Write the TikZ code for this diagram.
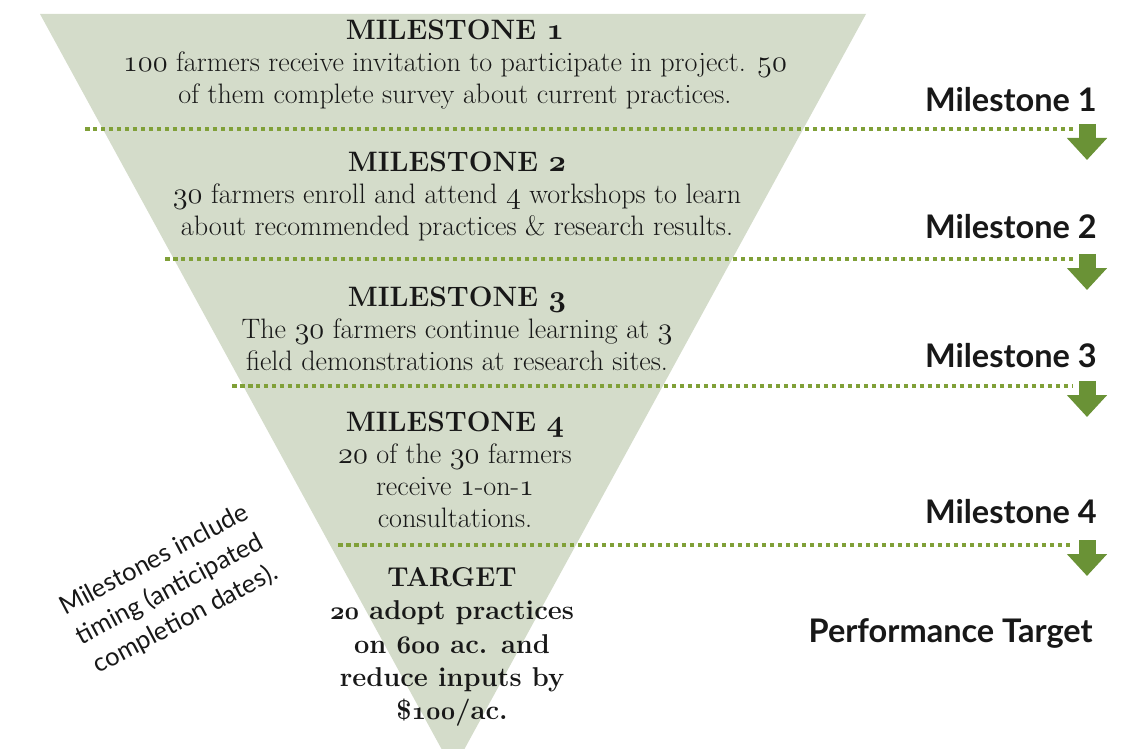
\documentclass[tikz,border=0pt]{standalone}
\usepackage{fontspec}
\usetikzlibrary{arrows.meta}
\newfontfamily\labelfont{Lato}
\definecolor{funnel}{RGB}{212,220,202}
\definecolor{dotgreen}{RGB}{128,160,56}
\definecolor{arrowgreen}{RGB}{106,146,54}
\definecolor{ink}{RGB}{24,24,24}
% old-style figures from the math italic font
\newcommand*{\osn}[1]{{\fontencoding{OML}\fontfamily{cmm}\fontshape{it}\selectfont #1}}

\begin{document}
\begin{tikzpicture}[x=0.02cm, y=-0.02cm,
    mstext/.style={align=center, inner sep=0pt, text=ink, font=\fontsize{16}{18.2}\selectfont},
    sidelabel/.style={anchor=east, inner sep=0pt, text=ink, font=\labelfont\bfseries\fontsize{18.5}{21}\selectfont},
    dotline/.style={dotgreen, line width=0.09cm, dash pattern=on 0.09cm off 0.07cm},
    downarrow/.style={arrowgreen, line width=0.34cm, -{Triangle[width=0.78cm, length=0.44cm]}}]
  \useasboundingbox (0,0) rectangle (1128,749);
  \clip (0,0) rectangle (1128,749);
  \fill[funnel] (40,14) -- (866,14) -- (453,770) -- cycle;

  % milestone separators with their arrows
  \foreach \n/\xl/\y in {1/85/129, 2/165/259, 3/232/386, 4/338/545} {
    \coordinate (sep\n) at (\xl,\y);
    \coordinate (end\n) at (1073,\y);
    \coordinate (tip\n) at (1087,\y+31);
    \draw[dotline] (sep\n) -- (end\n);
    \draw[downarrow] (1087,\y-5) -- (tip\n);
  }

  \node[mstext, anchor=north] (ms1) at (455,20)
    {\textbf{MILESTONE \osn{1}}\\
     \osn{100} farmers receive invitation to participate in project. \osn{50}\\
     of them complete survey about current practices.};
  \node[mstext, anchor=north] (ms2) at (457,152)
    {\textbf{MILESTONE \osn{2}}\\
     \osn{30} farmers enroll and attend \osn{4} workshops to learn\\
     about recommended practices \& research results.};
  \node[mstext, anchor=north] (ms3) at (457,287)
    {\textbf{MILESTONE \osn{3}}\\
     The \osn{30} farmers continue learning at \osn{3}\\
     field demonstrations at research sites.};
  \node[mstext, anchor=north] (ms4) at (455,412)
    {\textbf{MILESTONE \osn{4}}\\
     \osn{20} of the \osn{30} farmers\\
     receive \osn{1}-on-\osn{1}\\
     consultations.};
  \node[mstext, anchor=north, font=\bfseries\fontsize{15.5}{19}\selectfont] (target) at (452,567)
    {TARGET\\
     \osn{20} adopt practices\\
     on \osn{600} ac. and\\
     reduce inputs by\\
     \$\osn{100}/ac.};

  \node[sidelabel] (lbl1) at (1097,100) {Milestone 1};
  \node[sidelabel] (lbl2) at (1097,227) {Milestone 2};
  \node[sidelabel] (lbl3) at (1097,356) {Milestone 3};
  \node[sidelabel] (lbl4) at (1097,512) {Milestone 4};
  \node[sidelabel] (perf) at (1093,633) {Performance Target};

  \node[align=center, text=ink, rotate=28, font=\labelfont\fontsize{14.5}{19}\selectfont] (note) at (170,590)
    {Milestones include\\ timing (anticipated\\ completion dates).};
\end{tikzpicture}
\end{document}
